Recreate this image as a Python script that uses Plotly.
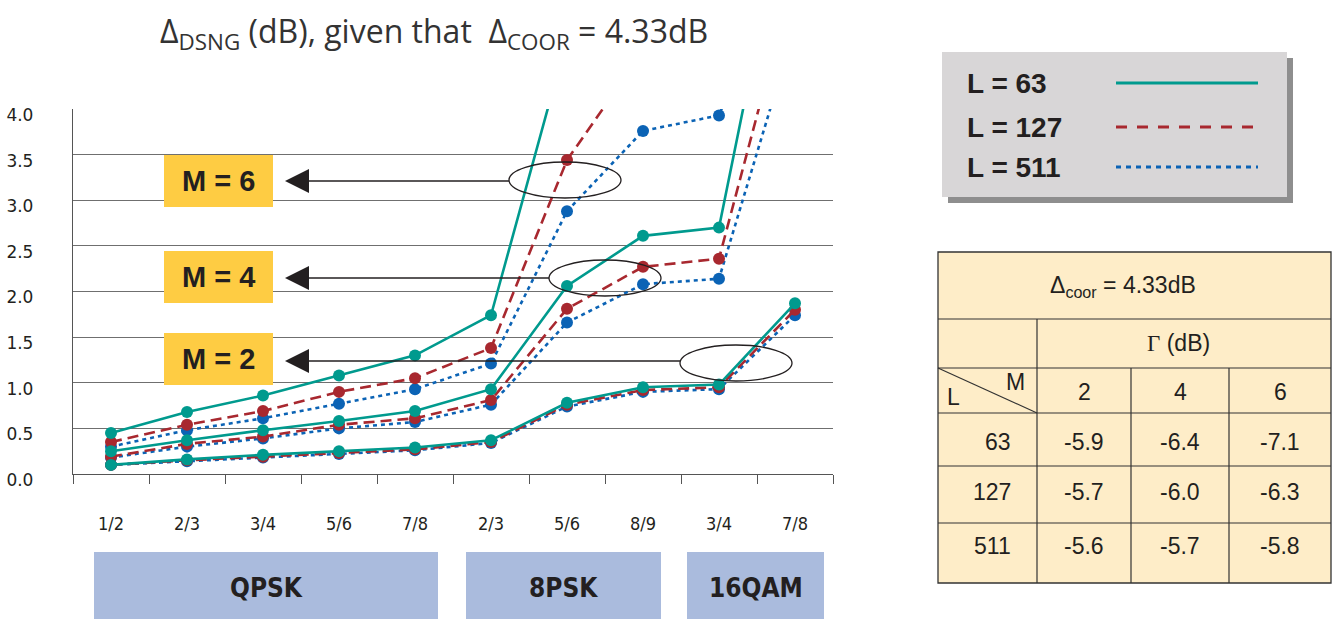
import plotly.graph_objects as go

# ---------------- data ----------------
x_labels = ["1/2", "2/3", "3/4", "5/6", "7/8", "2/3", "5/6", "8/9", "3/4", "7/8"]
groups = ["QPSK", "8PSK", "16QAM"]

L63_M2 = [0.10, 0.16, 0.21, 0.25, 0.29, 0.37, 0.78, 0.95, 0.98, 1.87]
L127_M2 = [0.10, 0.15, 0.19, 0.23, 0.27, 0.35, 0.76, 0.92, 0.95, 1.80]
L511_M2 = [0.10, 0.14, 0.18, 0.22, 0.26, 0.34, 0.74, 0.90, 0.93, 1.74]

L63_M4 = [0.25, 0.37, 0.48, 0.58, 0.69, 0.93, 2.06, 2.61, 2.70, 6.80]
L127_M4 = [0.19, 0.33, 0.41, 0.54, 0.61, 0.81, 1.81, 2.27, 2.36, 5.50]
L511_M4 = [0.18, 0.30, 0.39, 0.50, 0.57, 0.76, 1.66, 2.08, 2.14, 4.90]

L63_M6 = [0.45, 0.68, 0.86, 1.08, 1.30, 1.74, 4.77, 6.50, 7.50, 9.00]
L127_M6 = [0.35, 0.54, 0.69, 0.90, 1.05, 1.38, 3.44, 4.63, 5.50, 7.00]
L511_M6 = [0.30, 0.48, 0.61, 0.77, 0.93, 1.21, 2.88, 3.76, 3.93, 6.00]

table_L = ["63", "127", "511"]
table_M = ["2", "4", "6"]
table_gamma = [["-5.9", "-6.4", "-7.1"],
               ["-5.7", "-6.0", "-6.3"],
               ["-5.6", "-5.7", "-5.8"]]

# ---------------- styles ----------------
TEAL = "#009A8E"
RED = "#A8282F"
BLUE = "#0B63B5"
YELLOW = "#FECC43"
BOXBLUE = "#AABBDD"
TABLEBG = "#FEEDC8"
FONT = "Liberation Sans, Arial, sans-serif"
NARROW = "Liberation Sans Narrow, DejaVu Sans Condensed, Roboto Condensed, sans-serif"
TXT = "#231F20"

W, H = 1333, 620
L_PX, R_PX, T_PX, B_PX = 73, 833, 109, 474


def PX(x):
    return (x - L_PX) / (R_PX - L_PX)


def PY(y):
    return (B_PX - y) / (B_PX - T_PX)


def DX(x):
    return (x - 110) / 76.0


def DY(y):
    return (B_PX - y) / ((B_PX - T_PX) / 4.0)


def ann(x, y, text, font, xanchor="center", ref="paper"):
    return dict(xref=ref, yref=ref, x=x, y=y, text=text, showarrow=False,
                xanchor=xanchor, yanchor="middle", font=font)


xs = list(range(len(x_labels)))
fig = go.Figure()

series = [
    (L511_M6, BLUE, "4px,4px"), (L511_M4, BLUE, "4px,4px"), (L511_M2, BLUE, "4px,4px"),
    (L127_M6, RED, "11px,6px"), (L127_M4, RED, "11px,6px"), (L127_M2, RED, "11px,6px"),
    (L63_M6, TEAL, "solid"), (L63_M4, TEAL, "solid"), (L63_M2, TEAL, "solid"),
]
for ys, col, dash in series:
    fig.add_trace(go.Scatter(
        x=xs, y=ys, mode="lines+markers",
        line=dict(color=col, width=2.6, dash=dash),
        marker=dict(color=col, size=12),
        showlegend=False, hoverinfo="skip"))

shapes = []
annotations = []

# title
annotations.append(ann(PX(434), PY(33),
                       "Δ<sub>DSNG</sub> (dB), given that \u00a0Δ<sub>COOR</sub> = 4.33dB",
                       dict(family="Open Sans, sans-serif", size=32, color="#333333")))

# M labels, arrows, ellipses
m_boxes = [("M = 6", 155, 207, 181, 508, 620, 162, 198),
           ("M = 4", 251, 303, 278, 548, 660, 260, 296),
           ("M = 2", 333, 385, 361, 679, 791, 345, 381)]
for txt, y0, y1, ay, ex0, ex1, ey0, ey1 in m_boxes:
    shapes.append(dict(type="rect", xref="x", yref="y", x0=DX(163), x1=DX(272),
                       y0=DY(y0), y1=DY(y1), fillcolor=YELLOW, line=dict(width=0), layer="above"))
    annotations.append(ann(DX(217.5), DY((y0 + y1) / 2), "<b>" + txt + "</b>",
                           dict(family=FONT, size=29, color=TXT), ref="x"))
    annotations[-1]["yref"] = "y"
    tip = 284
    base = 308
    shapes.append(dict(type="path", xref="x", yref="y",
                       path=f"M {DX(tip)},{DY(ay)} L {DX(base)},{DY(ay - 12)} L {DX(base)},{DY(ay + 12)} Z",
                       fillcolor=TXT, line=dict(width=0), layer="above"))
    shapes.append(dict(type="line", xref="x", yref="y", x0=DX(base), x1=DX(ex0),
                       y0=DY(ay), y1=DY(ay), line=dict(color=TXT, width=1.3), layer="above"))
    shapes.append(dict(type="circle", xref="x", yref="y", x0=DX(ex0), x1=DX(ex1),
                       y0=DY(ey0), y1=DY(ey1), line=dict(color=TXT, width=1.3), layer="above"))

# modulation group boxes
grp_boxes = [(94, 438), (466, 661), (687, 824)]
for name, (gx0, gx1) in zip(groups, grp_boxes):
    shapes.append(dict(type="rect", xref="paper", yref="paper", x0=PX(gx0), x1=PX(gx1),
                       y0=PY(552), y1=PY(619), fillcolor=BOXBLUE, line=dict(width=0)))
    annotations.append(ann(PX((gx0 + gx1) / 2), PY(588), "<b>" + name + "</b>",
                           dict(family=NARROW, size=26, color=TXT)))

# legend box
shapes.append(dict(type="rect", xref="paper", yref="paper", x0=PX(948), x1=PX(1293),
                   y0=PY(58), y1=PY(203), fillcolor="#8E8E8E", line=dict(width=0)))
shapes.append(dict(type="rect", xref="paper", yref="paper", x0=PX(942), x1=PX(1287),
                   y0=PY(52), y1=PY(197), fillcolor="#D8D6D7", line=dict(width=0)))
leg = [("L = 63", TEAL, "solid", 83), ("L = 127", RED, "11px,10px", 127), ("L = 511", BLUE, "5px,5px", 167)]
for txt, col, dash, ly in leg:
    annotations.append(ann(PX(965), PY(ly), "<b>" + txt + "</b>",
                           dict(family=FONT, size=28, color=TXT), xanchor="left"))
    shapes.append(dict(type="line", xref="paper", yref="paper", x0=PX(1116), x1=PX(1258),
                       y0=PY(ly), y1=PY(ly), line=dict(color=col, width=2.8, dash=dash)))

# table
TL, TR, TT, TB = 938, 1331, 252, 583
C1, C2, C3 = 1037, 1131, 1229
R1, R2, R3, R4, R5 = 319, 368, 413, 466, 523
LC = "#333333"
shapes.append(dict(type="rect", xref="paper", yref="paper", x0=PX(TL), x1=PX(TR),
                   y0=PY(TT), y1=PY(TB), fillcolor=TABLEBG, line=dict(color=LC, width=1.3)))
for ry in (R1, R2, R3, R4, R5):
    shapes.append(dict(type="line", xref="paper", yref="paper", x0=PX(TL), x1=PX(TR),
                       y0=PY(ry), y1=PY(ry), line=dict(color=LC, width=1.2)))
shapes.append(dict(type="line", xref="paper", yref="paper", x0=PX(C1), x1=PX(C1),
                   y0=PY(R1), y1=PY(TB), line=dict(color=LC, width=1.2)))
for cx in (C2, C3):
    shapes.append(dict(type="line", xref="paper", yref="paper", x0=PX(cx), x1=PX(cx),
                       y0=PY(R2), y1=PY(TB), line=dict(color=LC, width=1.2)))
shapes.append(dict(type="line", xref="paper", yref="paper", x0=PX(TL), x1=PX(C1),
                   y0=PY(R2), y1=PY(R3), line=dict(color=LC, width=1.2)))

tfont = dict(family=FONT, size=23, color=TXT)
annotations.append(ann(PX(1123), PY(286), "Δ<sub>coor</sub> = 4.33dB", tfont))
annotations.append(ann(PX(1178), PY(343),
                       "<span style='font-family:Liberation Serif,serif'>Γ</span> (dB)", tfont))
annotations.append(ann(PX(1016), PY(382), "M", tfont))
annotations.append(ann(PX(953), PY(397), "L", tfont))
col_centers = [(C1 + C2) / 2, (C2 + C3) / 2, (C3 + TR) / 2]
for cc, m in zip(col_centers, table_M):
    annotations.append(ann(PX(cc), PY(392), m, tfont))
row_centers = [442, 492, 546]
for rc, lval, vals in zip(row_centers, table_L, table_gamma):
    annotations.append(ann(PX(1013), PY(rc), lval, tfont, xanchor="right"))
    for cc, v in zip(col_centers, vals):
        annotations.append(ann(PX(cc), PY(rc), v, tfont))

fig.update_layout(
    width=W, height=H,
    margin=dict(l=L_PX, r=W - R_PX, t=T_PX, b=H - B_PX, autoexpand=False),
    plot_bgcolor="white", paper_bgcolor="white",
    shapes=shapes, annotations=annotations,
    xaxis=dict(range=[-0.5, 9.5], tickvals=xs, ticktext=x_labels, ticks="", automargin=False,
               showgrid=False, zeroline=False, showline=True, linecolor="#555555", linewidth=1.3,
               tickfont=dict(family=NARROW, size=18, color=TXT), ticklabelstandoff=33,
               minor=dict(tick0=-0.5, dtick=1, ticks="outside", ticklen=9, tickwidth=1.3,
                          tickcolor="#555555", showgrid=False)),
    yaxis=dict(range=[0, 4], tickvals=[0, 0.5, 1, 1.5, 2, 2.5, 3, 3.5, 4], automargin=False,
               ticktext=["0.0", "0.5", "1.0", "1.5", "2.0", "2.5", "3.0", "3.5", "4.0"],
               showgrid=True, gridcolor="#6F6F6F", gridwidth=1.3, zeroline=False,
               showline=True, linecolor="#555555", linewidth=1.3, ticks="",
               tickfont=dict(family="DejaVu Sans, sans-serif", size=17, color=TXT),
               ticklabelstandoff=35, ticklabelshift=6),
)

fig.write_html("out.html", config={"displayModeBar": False},
               post_script="document.body.style.margin='0px';")
